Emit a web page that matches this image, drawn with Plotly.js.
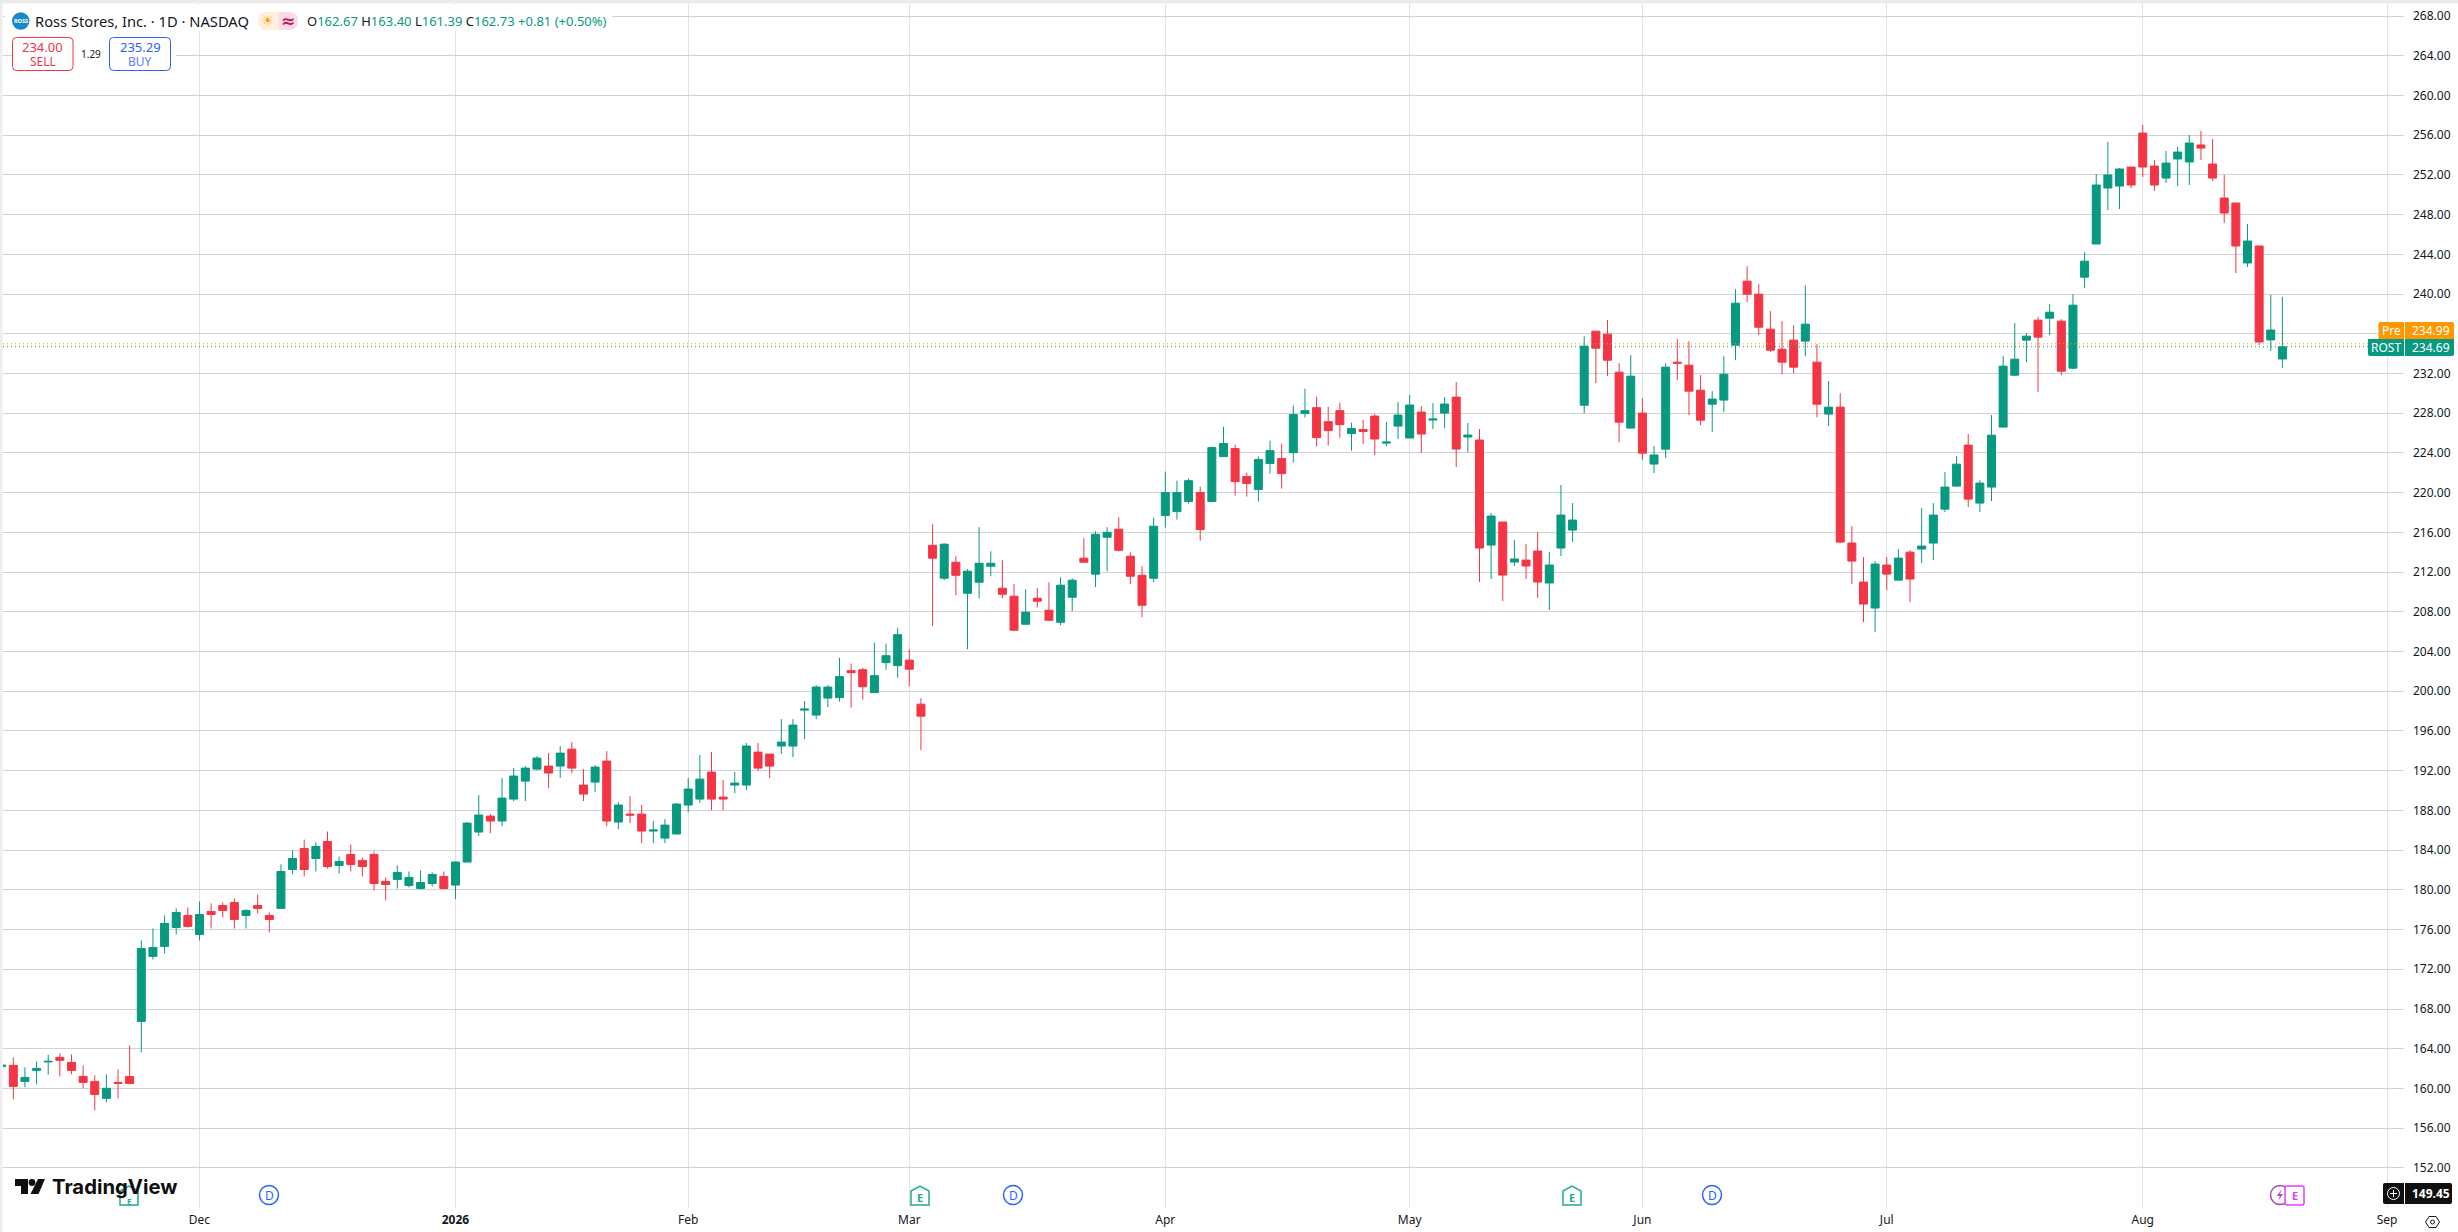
<!DOCTYPE html>
<html><head><meta charset="utf-8">
<script src="https://cdn.plot.ly/plotly-3.0.1.min.js"></script>
<style>html,body{margin:0;padding:0;background:#fff;overflow:hidden}#c{width:2458px;height:1232px}</style>
</head><body><div id="c"></div>
<script>
// Daily candles (first bar is the one clipped at the left edge)
const opens = [
162.20,162.32,160.71,161.82,162.67,163.13,162.62,161.21,160.71,159.00,
160.61,161.21,166.75,173.30,174.30,176.21,177.42,175.51,177.83,178.43,
178.73,177.42,178.43,177.42,178.13,182.05,184.17,183.16,184.87,182.46,
183.56,182.96,183.56,180.85,181.05,180.44,180.14,180.64,181.35,180.48,
182.80,185.82,187.43,186.93,189.14,190.95,192.16,192.46,192.46,194.17,
190.55,190.85,192.97,186.83,187.63,187.63,185.92,185.21,185.62,188.54,
189.14,191.86,189.34,190.55,190.55,193.87,193.67,194.48,194.48,198.10,
197.60,199.31,199.36,202.07,202.17,199.86,202.88,202.58,203.13,198.70,
214.70,211.38,212.99,209.87,210.98,212.59,210.38,209.57,206.75,209.37,
208.16,206.95,209.47,213.40,211.79,215.51,216.32,213.60,211.68,211.38,
217.69,218.09,219.10,220.01,219.10,223.63,224.44,221.62,220.31,222.93,
223.43,224.03,227.96,228.56,227.15,228.26,225.95,226.35,227.71,224.99,
226.70,225.50,228.11,227.31,228.01,229.62,225.60,225.30,214.72,217.04,
213.01,213.21,214.12,210.90,214.42,216.23,228.81,236.26,235.96,232.13,
226.50,228.01,222.88,224.38,233.14,232.84,230.32,228.91,229.32,234.85,
241.30,239.99,236.46,234.45,235.36,235.26,233.14,227.91,228.61,214.92,
210.99,208.38,212.71,211.19,214.01,214.32,214.92,218.34,220.66,224.79,
218.95,220.56,226.60,231.83,235.36,237.37,237.57,237.27,232.54,241.70,
245.04,250.68,250.88,252.79,256.21,252.89,251.68,253.60,253.30,255.01,
253.09,249.67,249.17,243.13,244.84,235.38,233.46];
const highs = [
162.90,163.13,162.12,162.72,163.40,163.53,163.43,162.32,161.32,161.42,
161.92,164.34,174.91,176.11,177.42,178.13,178.23,178.83,178.63,178.73,
179.13,178.03,179.54,177.72,182.56,183.97,185.06,184.77,185.87,183.36,
184.57,183.26,183.87,181.25,182.46,181.85,181.95,181.75,181.85,182.86,
186.83,189.54,187.63,191.26,192.26,192.46,193.47,193.77,194.48,194.88,
192.16,192.56,193.97,188.84,189.44,188.54,186.93,187.13,188.74,191.26,
193.57,193.87,191.05,191.86,194.78,194.78,193.67,197.19,197.19,199.01,
200.62,200.62,203.38,202.78,202.38,204.89,204.79,206.40,204.23,199.30,
216.82,214.91,213.60,212.29,216.52,214.10,213.19,210.78,210.28,210.38,
210.98,211.48,211.38,215.41,216.11,216.52,217.52,214.00,212.59,217.49,
222.12,221.21,221.42,220.61,224.64,226.65,224.84,222.02,223.63,225.24,
224.94,228.77,230.48,229.67,228.66,229.07,227.05,227.31,227.91,227.11,
229.12,229.83,228.72,229.02,229.62,231.13,227.01,226.40,217.95,217.04,
215.23,214.83,216.03,214.02,220.77,218.95,235.76,236.26,237.37,233.04,
233.85,229.52,224.68,233.04,235.46,235.26,231.83,230.22,233.74,240.49,
242.81,240.99,238.28,237.27,236.87,240.89,234.95,231.23,230.02,216.63,
213.51,213.11,213.51,214.32,214.21,218.44,218.95,222.07,223.68,225.89,
221.26,227.81,233.74,237.07,236.06,237.67,238.98,237.47,239.99,244.21,
252.09,255.31,252.69,252.79,257.02,253.50,254.40,254.81,256.01,256.42,
255.61,251.99,249.17,247.05,244.84,239.91,239.70];
const lows = [
161.80,158.90,160.11,160.41,161.39,161.21,161.42,160.01,157.79,158.60,
159.00,160.41,163.63,172.99,173.60,175.51,176.21,174.91,176.11,177.22,
176.11,176.11,177.62,175.71,178.13,181.55,181.35,181.85,182.15,181.65,
181.85,181.35,179.94,178.93,180.14,180.24,180.04,180.34,180.14,179.07,
182.80,185.42,185.72,186.42,188.94,188.94,192.06,190.25,191.26,191.76,
188.94,189.85,186.42,186.12,186.72,184.71,184.71,184.71,185.62,187.83,
188.74,188.03,188.03,189.74,190.05,191.96,191.26,193.67,193.37,195.18,
197.19,198.40,198.95,198.35,199.15,199.86,202.17,201.37,200.51,194.07,
206.55,211.18,209.67,204.23,209.37,211.58,209.37,206.05,206.75,208.46,
207.05,206.65,208.06,212.99,210.48,212.09,214.10,210.78,207.46,210.98,
216.48,217.29,218.90,215.17,219.10,223.63,219.70,219.60,219.10,221.92,
220.41,223.03,227.56,224.64,224.74,225.54,224.23,224.89,223.79,224.69,
225.40,225.50,223.99,226.40,226.50,222.58,224.09,211.00,211.30,209.09,
212.61,211.30,209.39,208.18,213.62,215.03,228.01,231.03,231.73,225.09,
226.50,223.28,221.97,223.48,231.33,227.81,226.80,226.09,228.11,233.34,
239.18,235.86,234.15,231.93,232.03,233.74,227.60,226.70,214.92,210.79,
206.97,205.96,210.19,211.19,208.98,212.91,213.21,218.04,220.56,218.54,
218.04,219.15,226.60,231.73,233.14,230.12,235.86,231.83,232.44,240.59,
245.04,248.46,248.56,250.68,251.79,250.38,251.18,250.88,250.98,253.50,
251.38,247.15,242.12,242.72,234.87,234.27,232.56];
const closes = [
162.35,160.21,161.11,162.02,162.73,162.83,161.82,160.61,159.40,160.01,
160.51,160.51,174.10,174.20,176.62,177.72,176.32,177.52,177.52,177.93,
177.02,177.93,178.13,177.02,181.85,183.16,182.05,184.37,182.35,182.86,
182.56,182.35,180.64,180.54,181.75,181.25,180.74,181.55,180.14,182.80,
186.72,187.53,186.93,189.24,191.46,192.26,193.27,191.76,193.77,192.26,
189.64,192.36,186.93,188.54,187.53,185.92,186.02,186.52,188.64,190.15,
191.15,189.14,189.14,190.75,194.48,192.26,192.46,194.88,196.59,198.20,
200.42,200.42,201.47,201.87,200.46,201.57,203.58,205.70,202.22,197.49,
213.40,214.81,211.68,212.09,212.89,212.89,209.77,206.15,207.96,209.07,
207.15,210.68,211.18,212.99,215.81,216.01,214.20,211.58,208.66,216.62,
220.01,220.01,221.21,216.28,224.54,224.94,221.11,220.91,223.33,224.23,
221.92,227.86,228.26,225.54,226.25,226.85,226.45,226.15,225.40,225.09,
227.81,228.82,225.90,227.41,228.92,224.39,225.80,214.42,217.64,211.70,
213.32,212.61,211.00,212.71,217.74,217.24,234.75,234.55,233.34,227.10,
231.73,223.98,223.79,232.64,233.04,230.22,227.30,229.42,231.93,239.08,
239.99,236.66,234.35,233.14,232.64,236.97,228.91,228.61,215.02,213.11,
208.78,212.81,211.80,213.41,211.30,214.62,217.74,220.56,222.87,219.35,
220.96,225.79,232.74,233.44,235.76,235.66,238.17,232.23,238.88,243.31,
250.98,251.99,252.59,250.98,252.79,250.98,253.19,254.30,255.21,254.70,
251.68,248.16,244.84,245.34,235.17,236.38,234.69];

const timeTickBars = [16, 38, 58, 77, 99, 120, 140, 161, 183, 204];
const timeTickLabels = ['Dec', '<b>2026</b>', 'Feb', 'Mar', 'Apr', 'May', 'Jun', 'Jul', 'Aug', 'Sep'];
const priceTicks = [152,156,160,164,168,172,176,180,184,188,192,196,200,204,208,212,216,220,224,228,232,236,240,244,248,252,256,260,264,268];
const lastPrice = 234.69, prePrice = 234.99;

const barNumber = opens.map((_, i) => i - 1);   // trading-day position on the time axis

const W = 2458, H = 1232, ml = 3, mr = 54, mt = 4, mb = 24;
const GREEN = '#089981', RED = '#f23645', INK = '#131722', FONT = '"Noto Sans", Roboto, sans-serif';
const px = x => (x - ml) / (W - ml - mr);
const py = y => 1 - (y - mt) / (H - mt - mb);

const shapes = [], notes = [];
const rect = (x0, y0, x1, y1, fill, stroke, sw) => shapes.push({type:'rect', xref:'paper', yref:'paper', x0:px(x0), x1:px(x1), y0:py(y0), y1:py(y1), fillcolor:fill, line:{color:stroke||fill, width:stroke?(sw||1):0}, layer:'above'});
const pathPx = (pts, fill, stroke, sw) => shapes.push({type:'path', xref:'paper', yref:'paper', layer:'above', fillcolor:fill||'rgba(0,0,0,0)', line:{color:stroke||'rgba(0,0,0,0)', width:stroke?(sw||1):0},
  path: pts.map(p => p[0] + (p.length > 1 ? ' ' + p.slice(1).map((v,i) => i%2 ? py(v) : px(v)).join(' ') : '')).join(' ')});
const round = (x0,y0,x1,y1,r,fill,stroke,sw,tl=r,tr=r,br=r,bl=r) => pathPx([['M',x0+tl,y0],['L',x1-tr,y0],['Q',x1,y0,x1,y0+tr],['L',x1,y1-br],['Q',x1,y1,x1-br,y1],['L',x0+bl,y1],['Q',x0,y1,x0,y1-bl],['L',x0,y0+tl],['Q',x0,y0,x0+tl,y0],['Z']], fill, stroke, sw);
const circle = (cx,cy,r,fill,stroke,sw) => shapes.push({type:'circle', xref:'paper', yref:'paper', layer:'above', x0:px(cx-r), x1:px(cx+r), y0:py(cy+r), y1:py(cy-r), fillcolor:fill||'rgba(0,0,0,0)', line:{color:stroke||'rgba(0,0,0,0)', width:stroke?(sw||1):0}});
const text = (x,y,t,size,color,anchor='center',extra={}) => notes.push({xref:'paper', yref:'paper', x:px(x), y:py(y), text:t, showarrow:false, xanchor:anchor, yanchor:'middle', borderpad:0, font:Object.assign({family:FONT, size, color}, extra)});

// window frame
rect(0, 0, W, 3.5, '#ececec');
rect(0, 0, 2.5, H, '#ececec');

// current-price dotted lines, tied to the price scale
[[prePrice,'#ff9800'],[lastPrice,GREEN]].forEach(([p,c]) => shapes.push({type:'line', xref:'paper', yref:'y', x0:0, x1:1, y0:p, y1:p, line:{color:c, width:1, dash:'1px 3px'}, layer:'above'}));

// legend
rect(5, 5, 612, 31, '#ffffff');
rect(12, 32, 176, 74, '#ffffff');
circle(20.7, 21, 8.7, '#1b87c9');
text(20.7, 21.2, 'ROSS', 5.5, '#ffffff', 'center', {weight:700});
text(34, 21, 'Ross Stores, Inc. · 1D · NASDAQ', 14.7, INK, 'left');
round(258,12,278.5,30,9,'#fff0dc',null,0,9,0,0,9);
round(278.5,12,298,30,9,'#fbd9e6',null,0,0,9,9,0);
text(268, 20.5, '☀', 13, '#ff9800', 'center', {family:'DejaVu Sans'});
text(288, 21, '≈', 17, '#c2185b', 'center', {family:'DejaVu Sans', weight:700});
const v = s => `<span style="color:${GREEN}">${s}</span>`;
text(306, 21, `O${v('162.67')} H${v('163.40')} L${v('161.39')} C${v('162.73')} ${v('+0.81 (+0.50%)')}`, 13, INK, 'left');
round(12.5,37.5,73,70.5,4,'#ffffff',RED,1);
text(42.5, 47, '234.00', 13, RED);
text(42.5, 61, 'SELL', 12, RED);
text(91, 54, '1.29', 10, INK);
round(109.5,37.5,170.5,70.5,4,'#ffffff','#2962ff',1);
text(140, 47, '235.29', 13, '#2962ff');
text(140, 61, 'BUY', 12, '#5b7cff');

// price labels on the scale
round(2378.5,322,2404,339,2,'#ff9800',null,0,2,0,0,0);
round(2405,322,2454,339,2,'#ff9800',null,0,0,2,0,0);
round(2368,339,2404,356,2,GREEN,null,0,0,0,0,2);
round(2405,339,2454,356,2,GREEN,null,0,0,0,2,0);
text(2391, 330.5, 'Pre', 12, '#fff');
text(2431, 330.5, '234.99', 12, '#fff');
text(2386, 347.5, 'ROST', 12, '#fff');
text(2431, 347.5, '234.69', 12, '#fff');

// event markers
const earnIcon = (cx, stroke, txt, ty=1197, ts=11) => {
  pathPx([['M',cx-9,1205],['L',cx-9,1191],['L',cx,1186],['L',cx+9,1191],['L',cx+9,1205],['Z']], '#ffffff', stroke, 1.5);
  text(cx, ty, 'E', ts, txt||stroke, 'center', {weight:700});
};
const divIcon = cx => { circle(cx, 1195, 9.5, '#ffffff', '#2962ff', 1.5); text(cx, 1195, 'D', 12, '#2962ff'); };
earnIcon(129, '#22ab94', null, 1201, 8);
divIcon(269); divIcon(1013); divIcon(1712);
earnIcon(920, '#22ab94'); earnIcon(1572, '#22ab94');
circle(2280, 1195, 9.5, '#ffffff', '#ab47bc', 1.5);
pathPx([['M',2282,1189],['L',2277,1196],['L',2280,1196],['L',2278,1201],['L',2283,1194],['L',2280,1194],['Z']], '#ab47bc');
round(2285,1186,2304,1205,2,'#ffffff','#e040fb',1.5);
text(2294.5, 1195.5, 'E', 11, '#e040fb', 'center', {weight:700});

// crosshair label at the bottom of the scale
round(2383,1183,2404,1204,2,'#0f0f0f',null,0,2,0,0,2);
round(2405,1183,2452,1204,2,'#0f0f0f',null,0,0,2,2,0);
circle(2393.5, 1193.5, 6, 'rgba(0,0,0,0)', '#ffffff', 1);
pathPx([['M',2393.5,1190],['L',2393.5,1197]], null, '#ffffff', 1);
pathPx([['M',2390,1193.5],['L',2397,1193.5]], null, '#ffffff', 1);
text(2431, 1193.5, '149.45', 12, '#ffffff', 'center', {weight:700});

// settings glyph
pathPx([['M',2425.5,1222],['L',2429,1216.5],['L',2436,1216.5],['L',2439.5,1222],['L',2436,1227.5],['L',2429,1227.5],['Z']], null, INK, 1);
circle(2432.5, 1222, 2, null, INK, 1);

// TradingView mark
pathPx([['M',15,1179],['L',28,1179],['L',28,1194],['L',21,1194],['L',21,1186],['L',15,1186],['Z']], '#0f0f0f');
circle(32, 1182.5, 3.4, '#0f0f0f');
pathPx([['M',38,1179],['L',45,1179],['L',38.5,1194],['L',30.5,1194],['Z']], '#0f0f0f');
text(51, 1186.5, 'TradingView', 20.3, '#0f0f0f', 'left', {family:'Inter, "Noto Sans", sans-serif', weight:700});

const trace = {
  type:'candlestick', x:barNumber, open:opens, high:highs, low:lows, close:closes,
  increasing:{line:{color:GREEN, width:1}, fillcolor:GREEN},
  decreasing:{line:{color:RED, width:1}, fillcolor:RED},
  whiskerwidth:0, hoverinfo:'skip', showlegend:false
};
const layout = {
  width:W, height:H, margin:{l:ml, r:mr, t:mt, b:mb, pad:0}, paper_bgcolor:'#ffffff', plot_bgcolor:'#ffffff',
  showlegend:false, boxgap:0.3125, boxgroupgap:0, hovermode:false, dragmode:false,
  font:{family:FONT, size:12, color:INK},
  xaxis:{type:'linear', range:[-0.885, 205.45], rangeslider:{visible:false}, tickmode:'array', tickvals:timeTickBars, ticktext:timeTickLabels,
    showgrid:true, gridcolor:'#e3e3e3', gridwidth:1, zeroline:false, showline:false, ticks:'', tickfont:{size:12, color:INK}, ticklabelstandoff:3, automargin:false},
  yaxis:{type:'linear', side:'right', range:[147.96, 269.21], tickmode:'array', tickvals:priceTicks, ticktext:priceTicks.map(p => p.toFixed(2)),
    showgrid:true, gridcolor:'#d2d2d2', gridwidth:1, zeroline:false, showline:false, ticks:'', tickfont:{size:12, color:INK}, ticklabelstandoff:8, automargin:false},
  shapes, annotations:notes
};
Plotly.newPlot('c', [trace], layout, {displayModeBar:false, staticPlot:true});
</script></body></html>
